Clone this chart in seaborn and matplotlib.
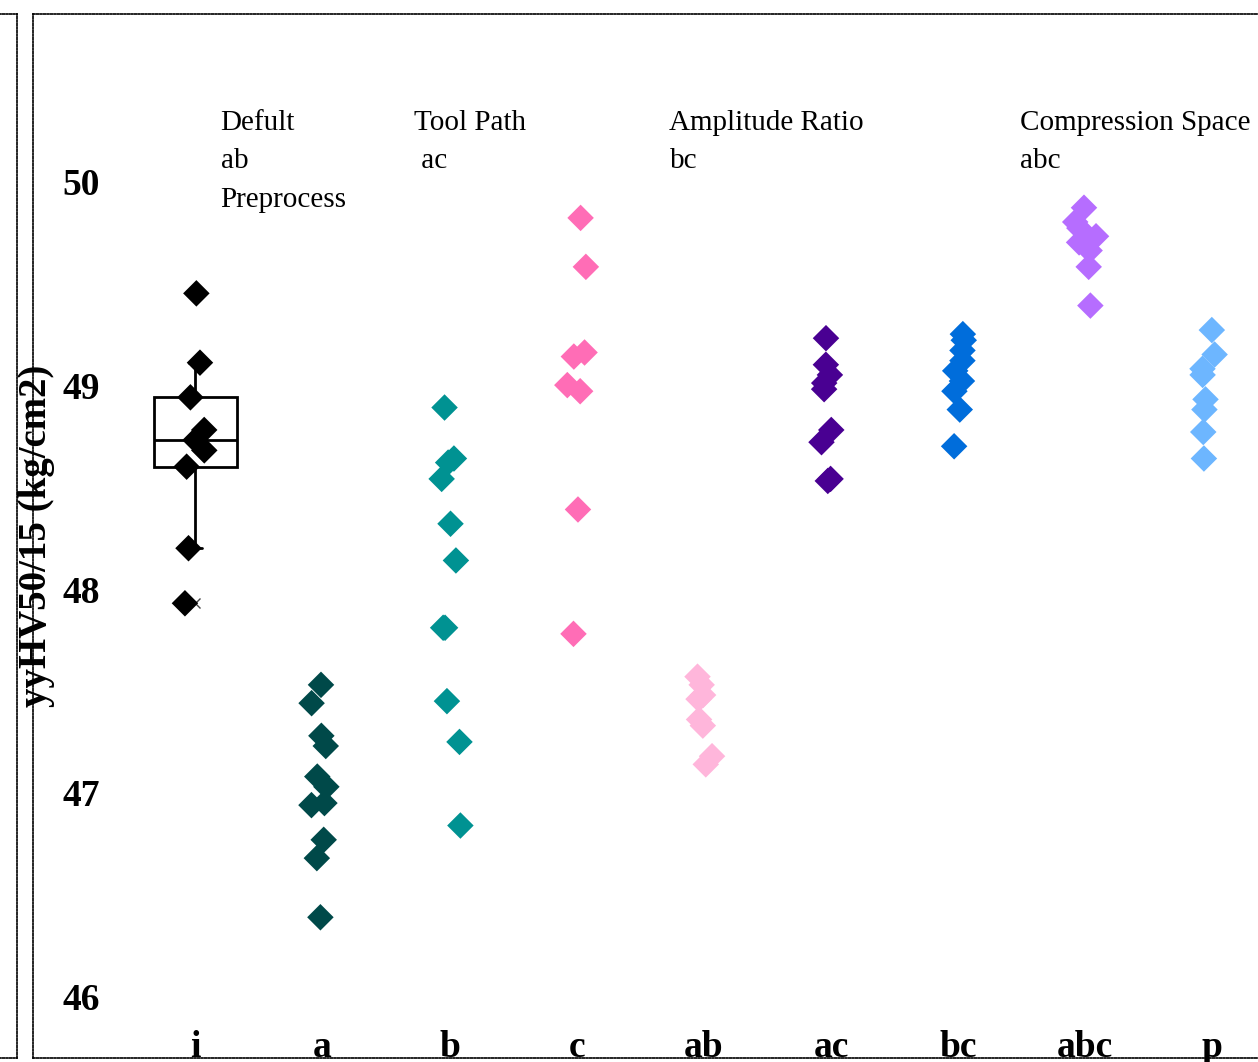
import numpy as np
import pandas as pd
import matplotlib
matplotlib.use("Agg")
import matplotlib.pyplot as plt
import seaborn as sns

categories = ["i", "a", "b", "c", "ab", "ac", "bc", "abc", "p"]
colors = ["#000000", "#004949", "#009292", "#ff6db6", "#ffb6db",
          "#490092", "#006ddb", "#b66dff", "#6db6ff"]

vals_i = [49.45, 49.11, 48.94, 48.73, 48.78, 48.68, 48.60, 48.20, 47.93]
vals_a = [47.53, 47.44, 47.28, 47.23, 47.08, 47.03, 46.95, 46.94, 46.77, 46.68, 46.39]
vals_b = [48.89, 48.64, 48.62, 48.54, 48.32, 48.14, 47.81, 47.81, 47.45, 47.25, 46.84]
vals_c = [49.82, 49.58, 49.16, 49.14, 49.00, 48.97, 48.39, 47.78]
vals_ab = [47.57, 47.53, 47.48, 47.46, 47.36, 47.33, 47.18, 47.14]
vals_ac = [49.23, 49.10, 49.05, 49.01, 48.98, 48.78, 48.72, 48.54, 48.53]
vals_bc = [49.25, 49.22, 49.17, 49.12, 49.07, 49.02, 48.97, 48.88, 48.70]
vals_abc = [49.87, 49.80, 49.77, 49.73, 49.70, 49.66, 49.58, 49.39]
vals_p = [49.27, 49.15, 49.08, 49.05, 48.93, 48.88, 48.77, 48.64]

groups = [vals_i, vals_a, vals_b, vals_c, vals_ab, vals_ac, vals_bc, vals_abc, vals_p]
df = pd.DataFrame({
    "group": [c for c, v in zip(categories, groups) for _ in v],
    "value": [x for v in groups for x in v],
})

notes = [
    (0.2, "Defult\nab\nPreprocess"),
    (1.72, "Tool Path\n ac"),
    (3.73, "Amplitude Ratio\nbc"),
    (6.49, "Compression Space\nabc"),
]

sns.set_style("white")
plt.rcParams["font.family"] = ["Liberation Serif", "DejaVu Serif"]
plt.rcParams["text.color"] = "black"
plt.rcParams["xtick.color"] = "black"
plt.rcParams["ytick.color"] = "black"
plt.rcParams["axes.labelcolor"] = "black"

dots = (0, (1, 1.1))

fig = plt.figure(figsize=(12.58, 10.62), dpi=100)

# neighbouring panel edge on the left
ax0 = fig.add_axes([-0.1, 0.0038, 0.1135, 0.983])
ax0.set_xticks([])
ax0.set_yticks([])
for s in ax0.spines.values():
    s.set_linestyle(dots)
    s.set_linewidth(1.2)
    s.set_color("black")

ax = fig.add_axes([0.0262, 0.0038, 0.98, 0.983])

sns.boxplot(data=df[df["group"] == "i"], x="group", y="value", order=categories,
            width=0.65, whis=1.3, color="white", linewidth=2, linecolor="black",
            capwidths=0.1,
            flierprops=dict(marker="x", markersize=7, markeredgecolor="#444444"),
            ax=ax, zorder=1)

np.random.seed(3)
sns.stripplot(data=df, x="group", y="value", order=categories, hue="group",
              hue_order=categories, palette=colors, marker="D", size=13.5,
              linewidth=0, jitter=0.09, legend=False, ax=ax, zorder=3)

for xpos, txt in notes:
    ax.text(xpos, 50.35, txt, fontsize=21, va="top", ha="left", linespacing=1.62)

ax.set_ylim(45.70, 50.82)
ax.set_xlim(-1.276, 8.42)
ax.set_yticks([46, 47, 48, 49, 50])
ax.set_yticklabels(["46", "47", "48", "49", "50"], fontsize=27, fontweight="bold")
ax.set_xticklabels(categories, fontsize=27, fontweight="bold")
ax.tick_params(axis="y", length=0, pad=-48)
ax.tick_params(axis="x", length=0, pad=-20)
ax.set_xlabel("")
ax.set_ylabel("yyHV50/15 (kg/cm2)", fontsize=28, fontweight="bold")
ax.yaxis.set_label_coords(0.018, 0.5)
for s in ax.spines.values():
    s.set_linestyle(dots)
    s.set_linewidth(1.2)
    s.set_color("black")

fig.savefig("out.png", dpi=100)
